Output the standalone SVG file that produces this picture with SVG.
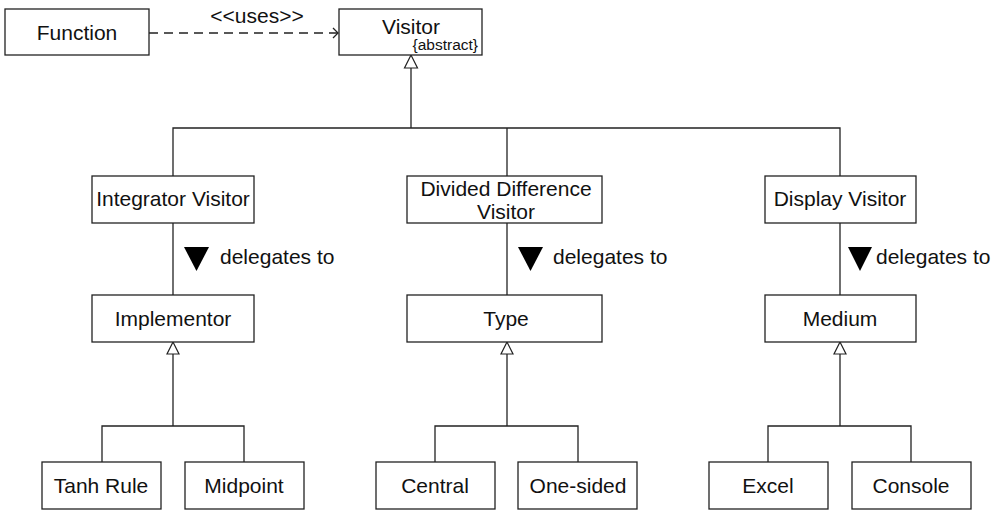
<svg xmlns="http://www.w3.org/2000/svg" width="1002" height="510" viewBox="0 0 1002 510">
<style>
.box{fill:#fff;stroke:#222;stroke-width:1.3}
.t{font-family:"Liberation Sans",Arial,sans-serif;font-size:21px;fill:#111;text-anchor:middle}
.s{font-family:"Liberation Sans",Arial,sans-serif;font-size:15.5px;fill:#111;text-anchor:end}
.l{font-family:"Liberation Sans",Arial,sans-serif;font-size:21px;fill:#111}
.c{fill:none;stroke:#222;stroke-width:1.3}
.gen{fill:#fff;stroke:#222;stroke-width:1.2}
.del{fill:#000}
</style>
<rect width="1002" height="510" fill="#fff"/>
<g id="connectors">
  <line class="c" x1="149" y1="33" x2="338" y2="33" stroke-dasharray="9,6"/>
  <polyline class="c" points="333,28 338,33 333,38"/>
  <text class="t" x="257" y="23">&lt;&lt;uses&gt;&gt;</text>
  <polyline class="c" points="411,68 411,128"/>
  <polyline class="c" points="173,176 173,128 840,128 840,176"/>
  <line class="c" x1="507" y1="128" x2="507" y2="176"/>
  <polygon class="gen" points="411,55 404.5,68 417.5,68"/>
  <line class="c" x1="173" y1="223" x2="173" y2="295"/>
  <line class="c" x1="507" y1="223" x2="507" y2="295"/>
  <line class="c" x1="840" y1="223" x2="840" y2="295"/>
  <polygon class="del" points="184,247 209,247 196.5,271"/>
  <text class="l" x="220" y="264">delegates to</text>
  <polygon class="del" points="518,247 543,247 530.5,271"/>
  <text class="l" x="553" y="264">delegates to</text>
  <polygon class="del" points="848,247 872,247 860,271"/>
  <text class="l" x="876" y="264">delegates to</text>
  <polyline class="c" points="173,354 173,426"/>
  <polyline class="c" points="102,462 102,426 244,426 244,462"/>
  <polygon class="gen" points="173,342 167,354 179,354"/>
  <polyline class="c" points="507,354 507,426"/>
  <polyline class="c" points="435,462 435,426 578,426 578,462"/>
  <polygon class="gen" points="507,342 501,354 513,354"/>
  <polyline class="c" points="840,354 840,426"/>
  <polyline class="c" points="768,462 768,426 911,426 911,462"/>
  <polygon class="gen" points="840,342 834,354 846,354"/>
</g>
<g id="function"><rect class="box" x="5" y="9" width="144" height="46"/><text class="t" x="77" y="40">Function</text></g>
<g id="visitor"><rect class="box" x="339" y="9" width="143" height="46"/><text class="t" x="411" y="34">Visitor</text><text class="s" x="478" y="50">{abstract}</text></g>
<g id="integrator"><rect class="box" x="92" y="176" width="162" height="47"/><text class="t" x="173" y="206">Integrator Visitor</text></g>
<g id="divided"><rect class="box" x="407" y="176" width="195" height="47"/><text class="t" x="506" y="196">Divided Difference</text><text class="t" x="506" y="219">Visitor</text></g>
<g id="display"><rect class="box" x="765" y="176" width="151" height="47"/><text class="t" x="840" y="206">Display Visitor</text></g>
<g id="implementor"><rect class="box" x="92" y="295" width="162" height="47"/><text class="t" x="173" y="326">Implementor</text></g>
<g id="type"><rect class="box" x="407" y="295" width="195" height="47"/><text class="t" x="506" y="326">Type</text></g>
<g id="medium"><rect class="box" x="765" y="295" width="151" height="47"/><text class="t" x="840" y="326">Medium</text></g>
<g id="tanh"><rect class="box" x="42" y="462" width="119" height="47"/><text class="t" x="101" y="493">Tanh Rule</text></g>
<g id="midpoint"><rect class="box" x="185" y="462" width="119" height="47"/><text class="t" x="244" y="493">Midpoint</text></g>
<g id="central"><rect class="box" x="376" y="462" width="119" height="47"/><text class="t" x="435" y="493">Central</text></g>
<g id="onesided"><rect class="box" x="518" y="462" width="119" height="47"/><text class="t" x="578" y="493">One-sided</text></g>
<g id="excel"><rect class="box" x="709" y="462" width="119" height="47"/><text class="t" x="768" y="493">Excel</text></g>
<g id="console"><rect class="box" x="852" y="462" width="119" height="47"/><text class="t" x="911" y="493">Console</text></g>
</svg>
